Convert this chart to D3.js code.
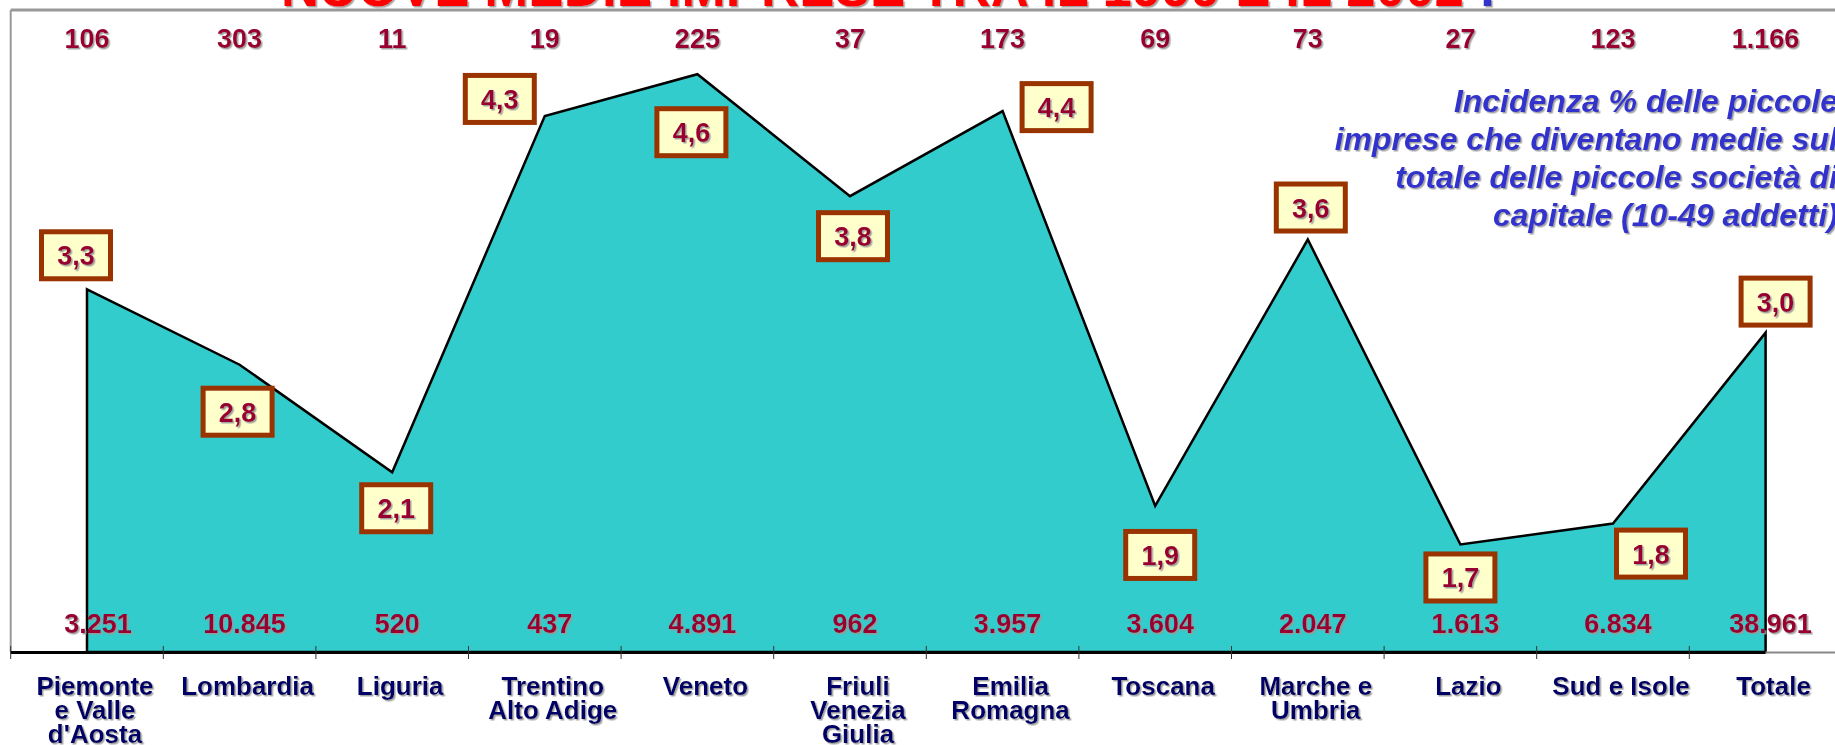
<!DOCTYPE html>
<html>
<head>
<meta charset="utf-8">
<script src="https://cdn.jsdelivr.net/npm/d3@7"></script>
<style>
  body { margin: 0; background: #fff; overflow: hidden; }
  svg { display: block; }
  text { font-family: "Liberation Sans", Arial, sans-serif; font-weight: bold; }
</style>
</head>
<body>
<svg width="1835" height="745"></svg>
<script>
// regioni (righe separate da \n)
const regioni = ["Piemonte\ne Valle\nd'Aosta", "Lombardia", "Liguria", "Trentino\nAlto Adige", "Veneto",
  "Friuli\nVenezia\nGiulia", "Emilia\nRomagna", "Toscana", "Marche e\nUmbria", "Lazio", "Sud e Isole", "Totale"];
// piccole imprese diventate medie
const nuoveMedie = [106, 303, 11, 19, 225, 37, 173, 69, 73, 27, 123, 1166];
// piccole societa' di capitale (10-49 addetti)
const piccole = [3251, 10845, 520, 437, 4891, 962, 3957, 3604, 2047, 1613, 6834, 38961];
// incidenza %
const incidenza = [3.26, 2.79, 2.12, 4.34, 4.60, 3.84, 4.37, 1.91, 3.57, 1.67, 1.80, 2.99];
const yDomain = [1, 5];

const titolo = "NUOVE MEDIE IMPRESE TRA IL 1999 E IL 2002";
const nota = ["Incidenza % delle piccole", "imprese che diventano medie sul",
  "totale delle piccole società di", "capitale (10-49 addetti)"];

// posizione delle etichette (centro del riquadro rispetto al punto)
const labelOffsets = [[-11, -34], [-2, 47], [4, 36], [-45, -17], [-6, 58], [3, 40],
  [54, -4], [5, 49], [3, -32], [0, 33], [38, 30], [10, -31]];

const it = d3.formatLocale({decimal: ",", thousands: ".", grouping: [3], currency: ["", "€"]});
const fmtInt = it.format(",d");
const fmtPct = it.format(".1f");

const svg = d3.select('svg');
const width = +svg.attr('width');

const defs = svg.append('defs');
const sh = defs.append('filter').attr('id', 'ombra')
  .attr('x', '-10%').attr('y', '-10%').attr('width', '130%').attr('height', '150%');
sh.append('feDropShadow').attr('dx', 1.5).attr('dy', 1.5).attr('stdDeviation', 0.4)
  .attr('flood-color', '#999').attr('flood-opacity', 0.9);

const data = regioni.map((r, i) => ({
  regione: r, medie: nuoveMedie[i], piccole: piccole[i], pct: incidenza[i], off: labelOffsets[i]
}));

const left = 10.7, baseY = 652, topY = 10;

const xBand = d3.scaleBand()
  .domain(regioni)
  .range([left, left + 12 * 152.6])
  .padding(0);
const xc = d => xBand(d.regione) + xBand.bandwidth() / 2;

const yScale = d3.scaleLinear().domain(yDomain).range([baseY, topY]);

// titolo (tagliato in alto)
const t = svg.append('text')
  .attr('x', 281).attr('y', 6)
  .style('font-size', '53px')
  .attr('filter', 'url(#ombra)');
t.append('tspan').attr('fill', '#ff0000').text(titolo);
t.append('tspan').attr('fill', '#3333cc').text('  !');

// cornice
svg.append('line').attr('x1', left).attr('x2', width).attr('y1', topY).attr('y2', topY)
  .attr('stroke', '#999').attr('stroke-width', 3);
svg.append('line').attr('x1', left).attr('x2', left).attr('y1', topY).attr('y2', baseY)
  .attr('stroke', '#999').attr('stroke-width', 2);

// area
const area = d3.area()
  .x(d => xc(d))
  .y0(yScale(yDomain[0]))
  .y1(d => yScale(d.pct));

svg.append('path')
  .datum(data)
  .attr('d', d => area(d) )
  .attr('fill', '#33cccc')
  .attr('stroke', '#000')
  .attr('stroke-width', 2.5)
  .attr('stroke-linejoin', 'miter');

// asse
const last = data[data.length - 1];
svg.append('line').attr('x1', left).attr('x2', xc(last)).attr('y1', baseY + 0.5).attr('y2', baseY + 0.5)
  .attr('stroke', '#000').attr('stroke-width', 3);
svg.append('line').attr('x1', xc(last)).attr('x2', width).attr('y1', baseY + 0.5).attr('y2', baseY + 0.5)
  .attr('stroke', '#888').attr('stroke-width', 2);
svg.append('g').selectAll('line').data(regioni)
  .enter().append('line')
    .attr('x1', d => xBand(d)).attr('x2', d => xBand(d))
    .attr('y1', baseY - 6).attr('y2', baseY + 7)
    .attr('stroke', '#333').attr('stroke-width', 1);

// etichette categorie
const cat = svg.append('g').selectAll('text').data(data)
  .enter().append('text')
    .attr('text-anchor', 'middle')
    .attr('fill', '#000066')
    .style('font-size', '26px')
    .attr('filter', 'url(#ombra)');
cat.each(function(d) {
  d3.select(this).selectAll('tspan').data(d.regione.split('\n'))
    .enter().append('tspan')
      .attr('x', xc(d) + 8)
      .attr('y', (s, i) => 695 + i * 24)
      .text(s => s);
});

// numeri in alto
svg.append('g').selectAll('text').data(data)
  .enter().append('text')
    .attr('x', d => xc(d))
    .attr('y', 48)
    .attr('text-anchor', 'middle')
    .attr('fill', '#990033')
    .style('font-size', '27px')
    .attr('filter', 'url(#ombra)')
    .text(d => fmtInt(d.medie));

// numeri in basso
svg.append('g').selectAll('text').data(data)
  .enter().append('text')
    .attr('x', (d, i) => xc(d) + (i === 0 ? 11 : 5))
    .attr('y', 633)
    .attr('text-anchor', 'middle')
    .attr('fill', '#990033')
    .style('font-size', '27px')
    .attr('filter', 'url(#ombra)')
    .text(d => fmtInt(d.piccole));

// riquadri con l'incidenza
const lab = svg.append('g').selectAll('g').data(data)
  .enter().append('g')
    .attr('transform', d => `translate(${xc(d) + d.off[0]},${yScale(d.pct) + d.off[1]})`);
lab.append('rect')
  .attr('x', -34.5).attr('y', -23.5)
  .attr('width', 69).attr('height', 47)
  .attr('fill', '#ffffcc')
  .attr('stroke', '#993300')
  .attr('stroke-width', 5);
lab.append('text')
  .attr('text-anchor', 'middle')
  .attr('y', 10)
  .attr('fill', '#990033')
  .style('font-size', '27px')
  .attr('filter', 'url(#ombra)')
  .text(d => fmtPct(d.pct));

// nota
svg.append('g').selectAll('text').data(nota)
  .enter().append('text')
    .attr('x', 1838)
    .attr('y', (d, i) => 112 + i * 38)
    .attr('text-anchor', 'end')
    .attr('fill', '#3333cc')
    .style('font-size', '32px')
    .style('font-style', 'italic')
    .attr('filter', 'url(#ombra)')
    .text(d => d);
</script>
</body>
</html>
